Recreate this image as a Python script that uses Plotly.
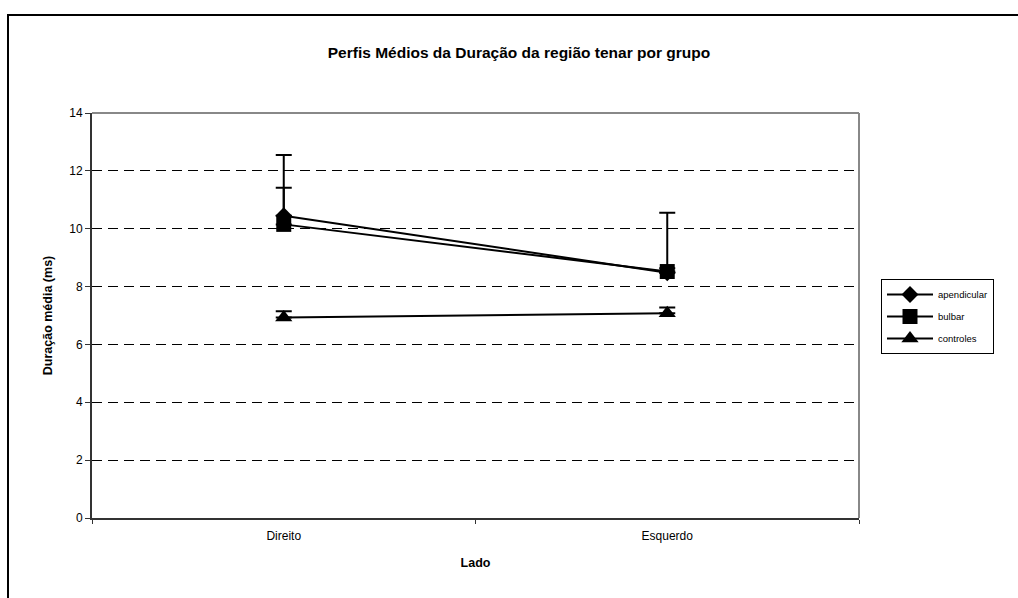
import plotly.graph_objects as go

# Lados medidos
lados = ["Direito", "Esquerdo"]

# Duração média (ms) por grupo
apendicular = [10.45, 8.48]
bulbar = [10.15, 8.52]
controles = [6.93, 7.08]

# Desvio (apenas para cima)
apendicular_err = [2.10, 0.15]
bulbar_err = [1.27, 2.03]
controles_err = [0.22, 0.20]

y_ticks = [0, 2, 4, 6, 8, 10, 12, 14]

FONT = "Liberation Sans, Arial, sans-serif"

series = [
    ("apendicular", apendicular, apendicular_err, "diamond", 13),
    ("bulbar", bulbar, bulbar_err, "square", 15),
    ("controles", controles, controles_err, "triangle-up", 15),
]

fig = go.Figure()
for name, vals, errs, symbol, size in series:
    fig.add_trace(go.Scatter(
        x=lados, y=vals, name=name, legendgroup=name, mode="lines+markers",
        line=dict(color="black", width=2),
        marker=dict(symbol=symbol, size=size, color="black"),
        error_y=dict(type="data", array=errs, arrayminus=[0] * len(errs),
                     symmetric=False, color="black", thickness=2, width=8),
    ))

W, H = 1018, 598
L, R, T, B = 92, 159, 113, 80
pw, ph = W - L - R, H - T - B


def px_x(p):
    return (p - L) / pw


def px_y(p):
    return (H - B - p) / ph


fig.update_layout(
    width=W, height=H,
    margin=dict(l=L, r=R, t=T, b=B),
    paper_bgcolor="white", plot_bgcolor="white",
    font=dict(family=FONT, size=12, color="black"),
    title=dict(text="<b>Perfis Médios da Duração da região tenar por grupo</b>",
               x=px_x(519), xanchor="center", xref="paper",
               y=1 - 53 / H, yanchor="middle",
               font=dict(size=15.5, family=FONT)),
    legend=dict(x=px_x(881), y=px_y(279), xanchor="left", yanchor="top",
                bordercolor="black", borderwidth=1, bgcolor="white",
                font=dict(size=9.5, family=FONT), tracegroupgap=3,
                itemwidth=46),
    showlegend=True,
    xaxis=dict(
        type="category", range=[-0.5, 1.5],
        showline=True, linecolor="#333333", linewidth=2,
        ticks="outside", ticklen=4, tickcolor="#333333", tickwidth=1,
        tickson="boundaries", showgrid=False, zeroline=False,
        ticklabelstandoff=6,
        tickfont=dict(size=12),
        title=dict(text="<b>Lado</b>", font=dict(size=12.5), standoff=16),
    ),
    yaxis=dict(
        range=[0, 14], tickvals=y_ticks,
        showline=True, linecolor="#333333", linewidth=2,
        ticks="outside", ticklen=5, tickcolor="#333333", tickwidth=1,
        showgrid=True, gridcolor="black", gridwidth=1, griddash="10px,6px",
        zeroline=False, tickfont=dict(size=12),
        title=dict(text="<b>Duração média (ms)</b>", font=dict(size=12.5), standoff=14),
    ),
    shapes=[
        # borda da área do gráfico (topo e direita em cinza)
        dict(type="line", xref="paper", yref="paper", x0=0, x1=1, y0=1, y1=1,
             line=dict(color="#888888", width=2), layer="above"),
        dict(type="line", xref="paper", yref="paper", x0=1, x1=1, y0=0, y1=1,
             line=dict(color="#888888", width=2), layer="above"),
        # moldura externa
        dict(type="rect", xref="paper", yref="paper",
             x0=px_x(8), x1=px_x(W + 10), y0=px_y(15), y1=px_y(H + 10),
             line=dict(color="black", width=2), fillcolor="rgba(0,0,0,0)"),
    ],
)

fig.write_html("out.html")
